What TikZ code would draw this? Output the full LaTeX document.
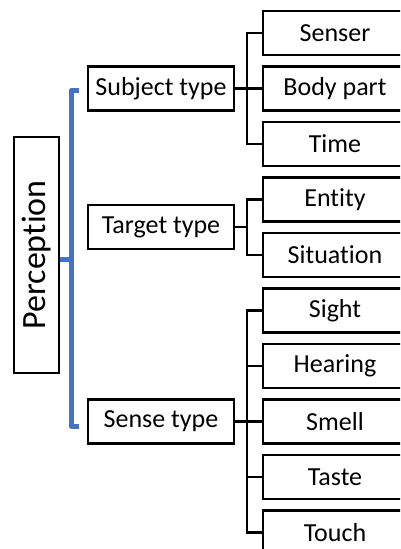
\documentclass[tikz,border=0pt]{standalone}
\usepackage{fontspec}
\setmainfont{Carlito}[Ligatures=CommonOff]
\definecolor{brblue}{HTML}{4472C4}
\begin{document}
\begin{tikzpicture}[x=1pt,y=-1pt,
  leaf/.style={draw, line width=2.4pt, minimum width=144pt, minimum height=44pt, inner sep=0pt, font=\fontsize{26}{30}\selectfont},
  mid/.style={draw, line width=2.4pt, minimum width=146pt, minimum height=44pt, inner sep=0pt, font=\fontsize{26}{30}\selectfont},
  root/.style={draw, line width=2.4pt, minimum width=236pt, minimum height=45pt, inner sep=0pt, rotate=90, font=\fontsize{34}{40}\selectfont},
  conn/.style={line width=2.4pt, black},
  brace/.style={line width=5pt, brblue}]
\useasboundingbox (0,0) rectangle (400,549);
\clip (0,0) rectangle (400,549);
% leaves
\node[leaf] (sen) at (335,33) {Senser};
\node[leaf] (bod) at (335,88.5) {Body part};
\node[leaf] (tim) at (335,144) {Time};
\node[leaf] (ent) at (335,199.5) {Entity};
\node[leaf] (sit) at (335,255) {Situation};
\node[leaf] (sig) at (335,310.5) {Sight};
\node[leaf] (hea) at (335,366) {Hearing};
\node[leaf] (sml) at (335,421.5) {Smell};
\node[leaf] (tas) at (335,477) {Taste};
\node[leaf] (tou) at (335,532.5) {Touch};
% middle
\node[mid] (sub) at (161,88.5) {Subject type};
\node[mid] (tar) at (161,227) {Target type};
\node[mid] (sns) at (161,421.5) {Sense type};
% root
\node[root] (per) at (36.5,255) {Perception};
% connectors
\draw[conn] (sub.east) -- (bod.west);
\draw[conn] (sen.west) -- ++(-15,0) |- (tim.west);
\coordinate (tb) at (248,227);
\draw[conn] (tar.east) -- (tb);
\draw[conn] (ent.west) -- ++(-15,0) |- (sit.west);
\draw[conn] (sns.east) -- (sml.west);
\draw[conn] (sig.west) -- ++(-15,0) |- (tou.west);
\draw[conn] (hea.west) -- ++(-15,0);
\draw[conn] (tas.west) -- ++(-15,0);
% bracket
\coordinate (bt) at (79,90.5);
\coordinate (bb) at (79,426);
\coordinate (bm) at (71,259);
\draw[brace, line join=round] (bt) -- (71,90.5) -- (71,426) -- (bb);
\draw[brace] (bm) -- (per.south |- bm);
\end{tikzpicture}
\end{document}
